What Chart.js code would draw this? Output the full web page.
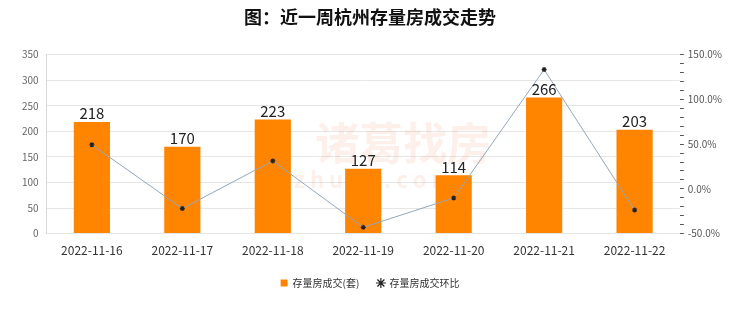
<!DOCTYPE html>
<html>
<head>
<meta charset="utf-8">
<script src="https://cdn.jsdelivr.net/npm/chart.js@4/dist/chart.umd.min.js"></script>
<style>
  html, body { margin: 0; padding: 0; background: #fff; }
  #wrap { width: 740px; height: 312px; }
</style>
</head>
<body>
<div id="wrap"><canvas id="chart"></canvas></div>
<script>
const dates = ['2022-11-16', '2022-11-17', '2022-11-18', '2022-11-19', '2022-11-20', '2022-11-21', '2022-11-22'];
const deals = [218, 170, 223, 127, 114, 266, 203];
const dealChange = [49.3, -22.0, 31.2, -43.0, -10.2, 133.3, -23.7];

const FONT = '"Noto Sans CJK SC", "Noto Sans", sans-serif';

// numbers above the bars
const barLabels = {
  id: 'barLabels',
  afterDatasetsDraw(chart) {
    const ctx = chart.ctx;
    const meta = chart.getDatasetMeta(0);
    ctx.save();
    ctx.font = '15px ' + FONT;
    ctx.fillStyle = '#222';
    ctx.textAlign = 'center';
    ctx.textBaseline = 'bottom';
    meta.data.forEach(function (bar, i) {
      ctx.fillText(deals[i], bar.x, bar.y - 1);
    });
    ctx.restore();
  }
};

// faint site watermark in the middle
const watermark = {
  id: 'watermark',
  beforeDatasetsDraw(chart) {
    const ctx = chart.ctx;
    const a = chart.chartArea;
    const cx = (a.left + a.right) / 2;
    ctx.save();
    ctx.fillStyle = 'rgba(240, 150, 110, 0.14)';
    ctx.textAlign = 'center';
    ctx.textBaseline = 'middle';
    ctx.font = 'bold 44px ' + FONT;
    ctx.fillText('诸葛找房', cx + 40, 143);
    ctx.font = 'bold 22px ' + FONT;
    ctx.fillText('z h u g e . c o m', cx + 10, 180);
    ctx.restore();
  }
};

new Chart(document.getElementById('chart'), {
  data: {
    labels: dates,
    datasets: [
      {
        type: 'bar',
        label: '存量房成交(套)',
        data: deals,
        backgroundColor: '#ff8400',
        barPercentage: 0.4,
        categoryPercentage: 1,
        yAxisID: 'y',
        pointStyle: 'rect',
        order: 2
      },
      {
        type: 'line',
        label: '存量房成交环比',
        data: dealChange,
        borderColor: '#93a7bb',
        borderWidth: 1,
        pointStyle: 'star',
        pointRadius: 2.5,
        pointBorderColor: '#222',
        pointBorderWidth: 1.2,
        backgroundColor: '#222',
        tension: 0,
        yAxisID: 'y1',
        order: 1
      }
    ]
  },
  options: {
    responsive: true,
    maintainAspectRatio: false,
    animation: false,
    layout: { padding: { left: 14, right: 14, top: 2, bottom: 14 } },
    plugins: {
      title: {
        display: true,
        text: '图：近一周杭州存量房成交走势',
        color: '#111',
        font: { family: FONT, size: 18, weight: 'bold' },
        padding: { top: 4, bottom: 27 }
      },
      legend: {
        position: 'bottom',
        labels: {
          usePointStyle: true,
          boxWidth: 7,
          boxHeight: 7,
          padding: 18,
          color: '#333',
          font: { family: FONT, size: 10 },
          sort: function (a, b) { return a.datasetIndex - b.datasetIndex; }
        }
      },
      tooltip: { enabled: false }
    },
    scales: {
      x: {
        grid: { display: false },
        border: { display: false },
        ticks: { color: '#333', font: { family: FONT, size: 12 }, padding: 2 }
      },
      y: {
        position: 'left',
        min: 0,
        max: 350,
        ticks: { stepSize: 50, color: '#666', font: { family: FONT, size: 10 }, padding: 8 },
        grid: { color: '#e6e6e6', drawTicks: false },
        border: { color: '#d8d8d8' }
      },
      y1: {
        position: 'right',
        min: -50,
        max: 150,
        ticks: {
          stepSize: 10,
          autoSkip: false,
          color: '#555',
          font: { family: FONT, size: 10 },
          padding: 4,
          callback: function (v) { return v % 50 === 0 ? v.toFixed(1) + '%' : ''; }
        },
        grid: { drawOnChartArea: false, tickLength: 4, color: '#555' },
        border: { display: false }
      }
    }
  },
  plugins: [barLabels, watermark]
});
</script>
</body>
</html>
